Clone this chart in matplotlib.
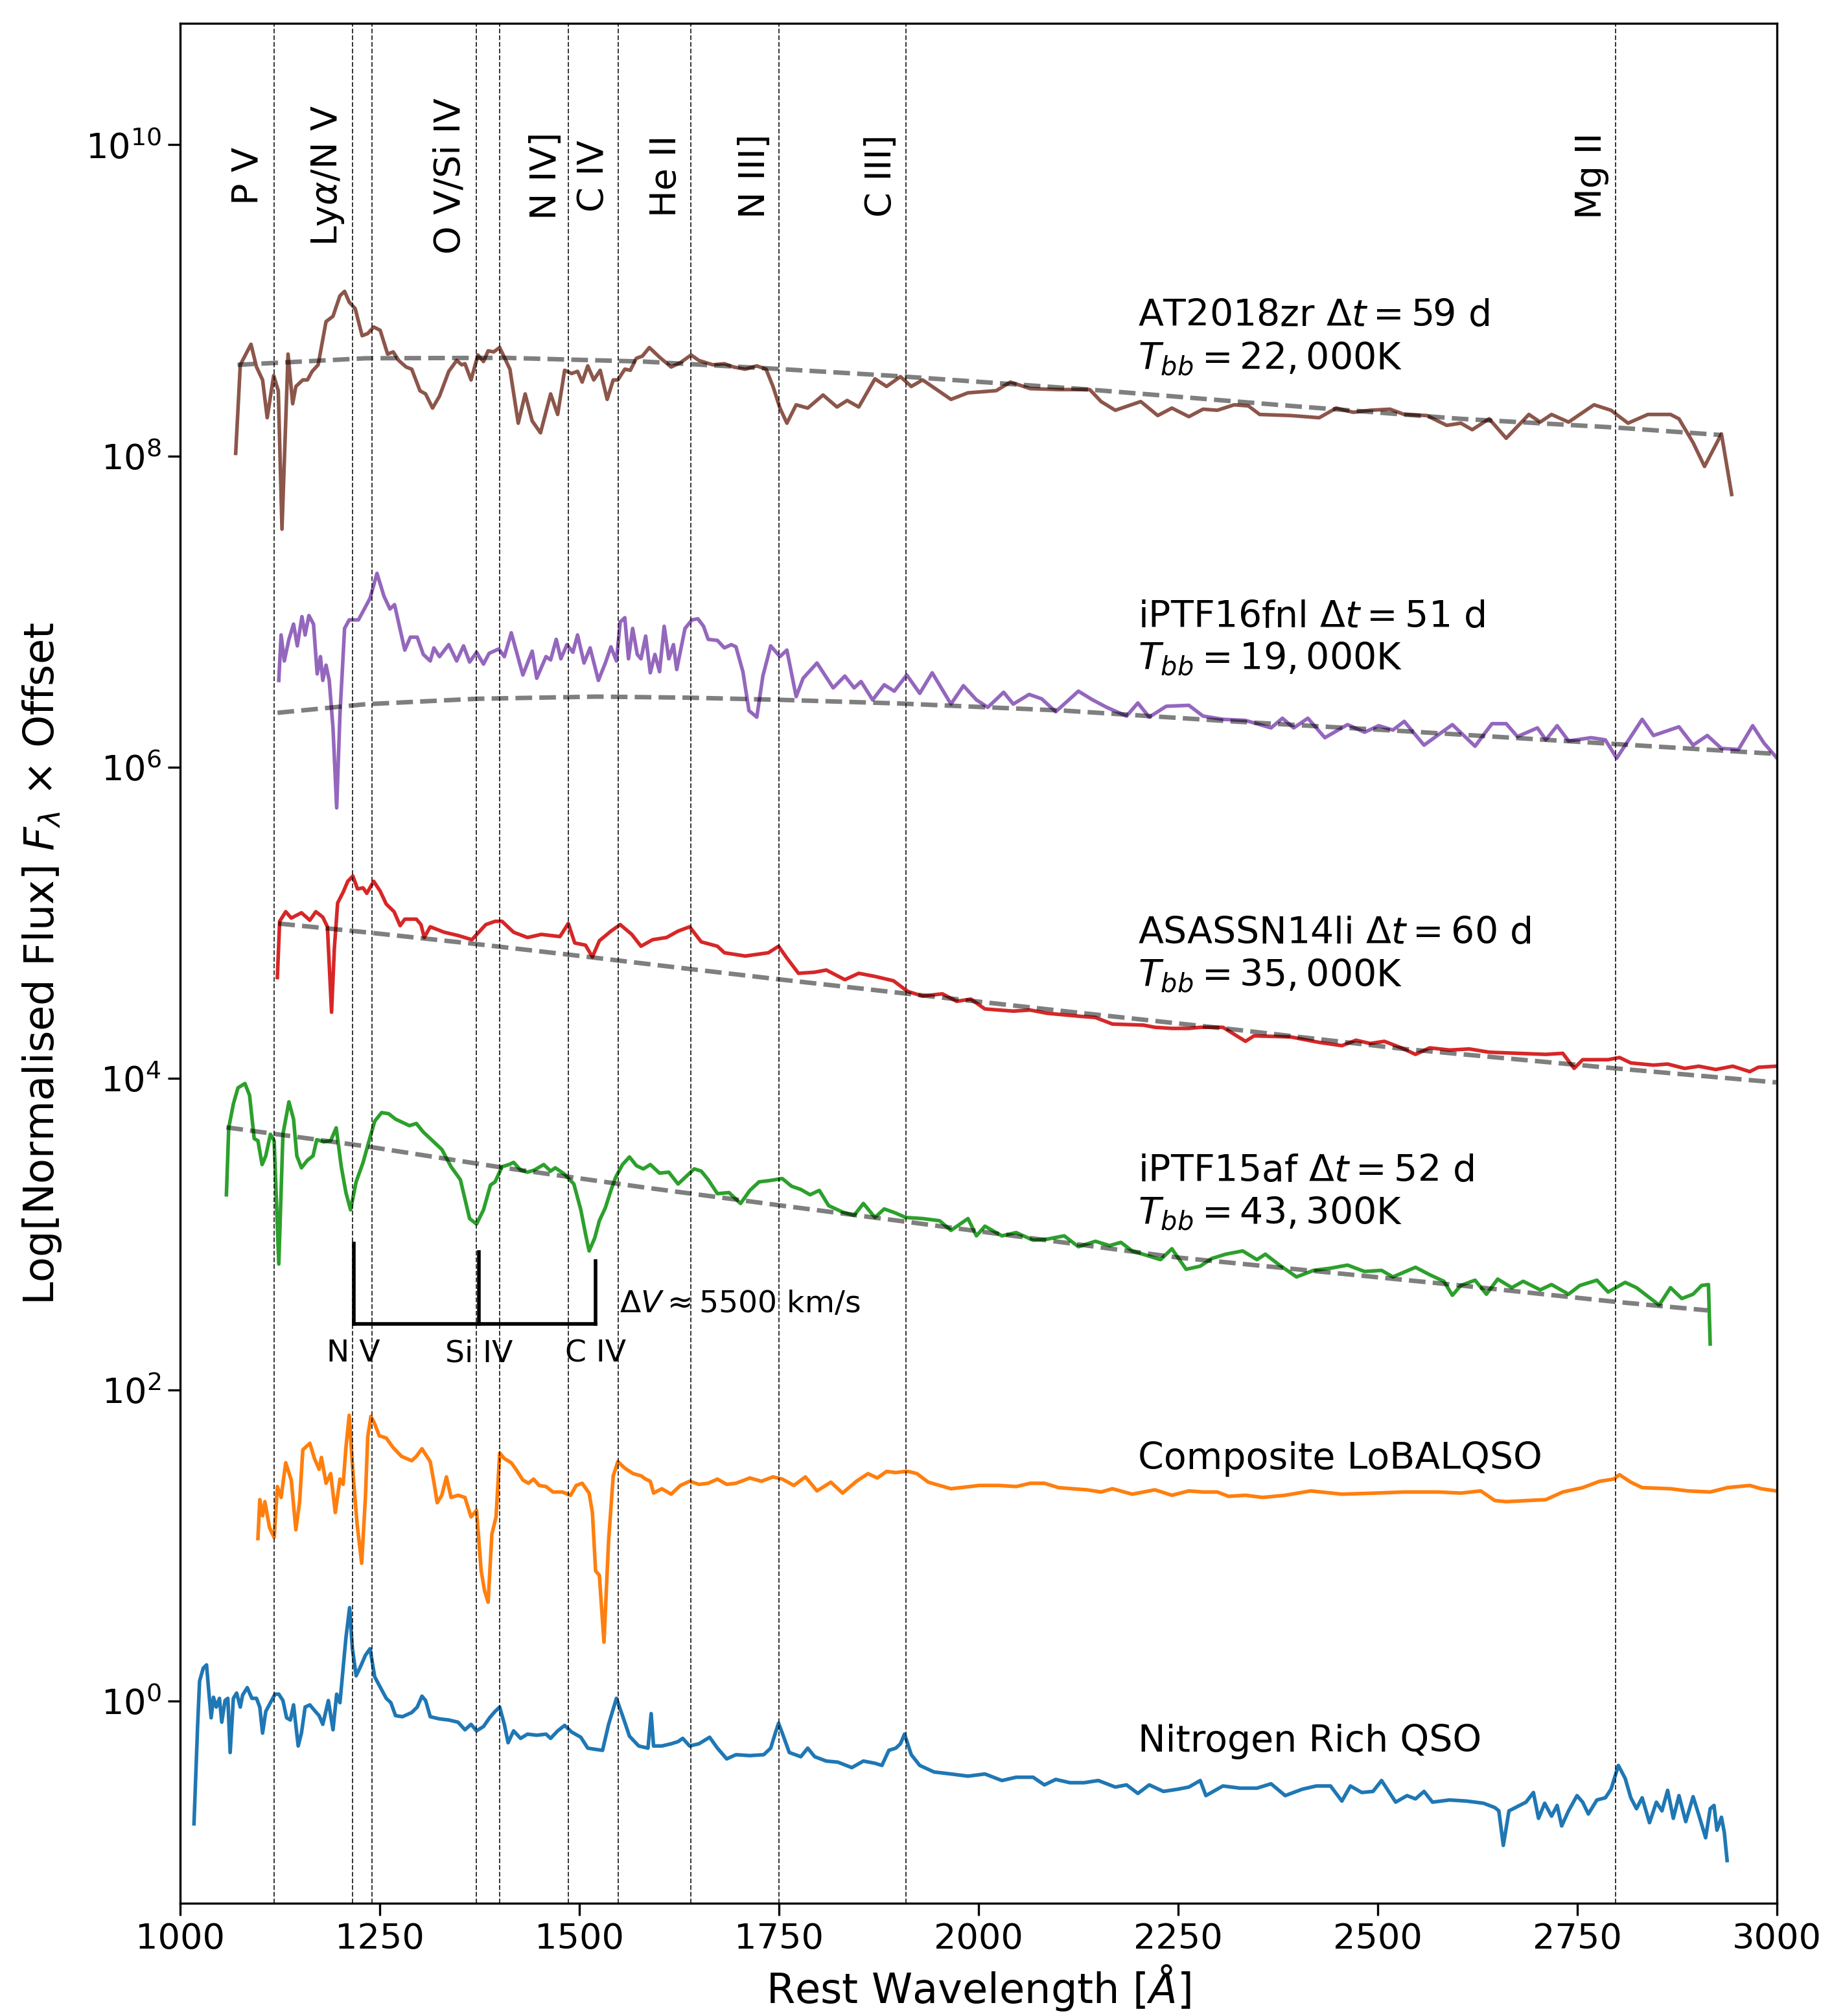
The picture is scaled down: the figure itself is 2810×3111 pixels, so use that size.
import numpy as np
import matplotlib
matplotlib.use('Agg')
import matplotlib.pyplot as plt
from matplotlib.ticker import FixedLocator, NullLocator

# ---------------- data (wavelength [A], log10 flux x offset) ----------------
AT2018ZR = [
(1069.6, 8.017), (1075.4, 8.586), (1088.8, 8.718), (1095.7, 8.572), (1103.3, 8.489), (1109.1, 8.246),
(1117.2, 8.517), (1123.0, 8.419), (1127.6, 7.53), (1135.2, 8.655), (1141.0, 8.336), (1145.0, 8.447),
(1153.7, 8.489), (1159.5, 8.489), (1165.4, 8.544), (1172.9, 8.586), (1182.8, 8.864), (1191.5, 8.898),
(1200.2, 9.03), (1206.0, 9.058), (1211.8, 8.989), (1219.3, 8.947), (1228.0, 8.773), (1235.0, 8.787),
(1242.5, 8.829), (1250.6, 8.808), (1259.9, 8.655), (1266.9, 8.669), (1273.8, 8.614), (1283.1, 8.572),
(1290.1, 8.558), (1300.5, 8.419), (1307.5, 8.399), (1316.2, 8.308), (1324.9, 8.385), (1336.5, 8.544),
(1346.4, 8.614), (1352.7, 8.586), (1356.8, 8.593), (1364.4, 8.489), (1373.0, 8.649), (1380.0, 8.607),
(1385.8, 8.676), (1392.8, 8.669), (1400.3, 8.697), (1413.1, 8.558), (1423.5, 8.211), (1432.2, 8.399),
(1441.0, 8.225), (1451.4, 8.149), (1464.1, 8.399), (1472.9, 8.267), (1481.6, 8.551), (1490.3, 8.530),
(1497.8, 8.544), (1503.6, 8.475), (1510.6, 8.579), (1518.1, 8.489), (1526.2, 8.551), (1534.9, 8.364),
(1542.5, 8.489), (1548.3, 8.489), (1557.0, 8.558), (1563.9, 8.551), (1571.5, 8.628), (1579.0, 8.642),
(1587.7, 8.697), (1600.5, 8.635), (1615.0, 8.572), (1626.6, 8.600), (1640.0, 8.649), (1649.8, 8.614),
(1658.5, 8.600), (1667.2, 8.586), (1681.7, 8.593), (1693.3, 8.572), (1707.8, 8.558), (1722.3, 8.579),
(1733.9, 8.558), (1742.6, 8.447), (1751.3, 8.308), (1760.0, 8.211), (1771.6, 8.329), (1786.1, 8.308),
(1805.3, 8.392), (1822.7, 8.315), (1835.5, 8.357), (1850.0, 8.315), (1870.3, 8.496), (1884.8, 8.447),
(1902.2, 8.510), (1915.8, 8.447), (1930.0, 8.489), (1965.5, 8.364), (1986.8, 8.406), (2022.2, 8.420),
(2040.0, 8.475), (2064.8, 8.433), (2100.3, 8.427), (2139.3, 8.427), (2153.5, 8.350), (2171.3, 8.294),
(2203.2, 8.350), (2224.5, 8.260), (2242.2, 8.308), (2263.5, 8.253), (2281.2, 8.301), (2299.0, 8.294),
(2320.3, 8.329), (2338.0, 8.322), (2352.2, 8.267), (2391.2, 8.260), (2426.7, 8.246), (2448.0, 8.308),
(2469.3, 8.281), (2490.6, 8.294), (2515.4, 8.301), (2533.2, 8.267), (2561.5, 8.260), (2586.4, 8.197),
(2604.1, 8.211), (2618.3, 8.169), (2639.6, 8.239), (2660.9, 8.114), (2689.3, 8.267), (2703.5, 8.218),
(2717.7, 8.267), (2739.0, 8.218), (2770.9, 8.329), (2792.2, 8.294), (2813.5, 8.211), (2838.3, 8.267),
(2866.7, 8.267), (2877.3, 8.239), (2895.0, 8.086), (2909.3, 7.933), (2930.5, 8.142), (2943.3, 7.753)]

IPTF16FNL = [
(1123.6, 6.558), (1126.5, 6.850), (1130.5, 6.683), (1136.3, 6.822), (1142.1, 6.920), (1146.8, 6.780),
(1152.6, 6.968), (1156.6, 6.850), (1161.3, 6.975), (1167.1, 6.920), (1171.7, 6.600), (1175.8, 6.711),
(1178.7, 6.558), (1182.8, 6.656), (1186.8, 6.558), (1191.5, 6.253), (1196.1, 5.739), (1200.2, 6.336),
(1206.0, 6.892), (1211.8, 6.947), (1223.4, 6.947), (1232.1, 7.030), (1237.9, 7.086), (1246.6, 7.246),
(1255.3, 7.100), (1262.8, 7.017), (1268.6, 7.045), (1281.4, 6.753), (1288.4, 6.836), (1297.0, 6.836),
(1304.6, 6.725), (1313.3, 6.683), (1317.9, 6.767), (1324.9, 6.711), (1336.5, 6.788), (1346.4, 6.683),
(1355.0, 6.780), (1362.6, 6.676), (1371.3, 6.739), (1380.0, 6.663), (1387.0, 6.732), (1399.2, 6.760),
(1406.1, 6.711), (1414.8, 6.864), (1429.3, 6.593), (1441.0, 6.746), (1446.7, 6.572), (1458.3, 6.711),
(1464.1, 6.690), (1471.1, 6.822), (1476.9, 6.697), (1484.5, 6.788), (1492.0, 6.739), (1497.8, 6.850),
(1505.9, 6.670), (1513.5, 6.767), (1523.9, 6.558), (1532.6, 6.670), (1539.6, 6.774), (1546.5, 6.683),
(1551.2, 6.933), (1557.0, 6.961), (1561.6, 6.697), (1566.8, 6.892), (1572.6, 6.725), (1577.3, 6.697),
(1583.1, 6.843), (1588.9, 6.607), (1594.7, 6.725), (1600.5, 6.614), (1606.3, 6.906), (1612.1, 6.697),
(1617.9, 6.788), (1622.0, 6.628), (1632.4, 6.892), (1641.1, 6.947), (1648.6, 6.954), (1655.6, 6.906),
(1661.4, 6.822), (1673.0, 6.815), (1681.7, 6.767), (1690.4, 6.788), (1696.2, 6.774), (1704.9, 6.614),
(1712.5, 6.364), (1722.3, 6.322), (1729.9, 6.586), (1739.7, 6.780), (1751.3, 6.711), (1760.0, 6.753),
(1771.6, 6.454), (1780.3, 6.572), (1797.7, 6.670), (1818.0, 6.510), (1832.6, 6.586), (1844.2, 6.510),
(1852.9, 6.551), (1867.4, 6.433), (1881.9, 6.530), (1894.5, 6.489), (1910.1, 6.593), (1926.4, 6.475),
(1942.0, 6.607), (1965.5, 6.406), (1981.1, 6.524), (1997.4, 6.433), (2011.6, 6.385), (2031.5, 6.482),
(2043.5, 6.406), (2063.4, 6.468), (2079.0, 6.440), (2096.7, 6.357), (2125.1, 6.489), (2142.9, 6.433),
(2160.6, 6.385), (2185.4, 6.329), (2199.6, 6.413), (2213.8, 6.322), (2235.1, 6.392), (2263.5, 6.398),
(2281.2, 6.329), (2306.1, 6.308), (2334.4, 6.301), (2366.4, 6.253), (2380.6, 6.315), (2394.8, 6.253),
(2412.5, 6.315), (2433.8, 6.190), (2462.2, 6.274), (2483.5, 6.225), (2501.2, 6.267), (2519.0, 6.239),
(2533.2, 6.295), (2558.0, 6.142), (2593.5, 6.274), (2621.9, 6.135), (2643.1, 6.280), (2660.9, 6.280),
(2675.0, 6.197), (2700.0, 6.253), (2710.6, 6.176), (2724.7, 6.267), (2739.0, 6.169), (2767.3, 6.190),
(2785.1, 6.176), (2799.3, 6.058), (2831.2, 6.308), (2845.4, 6.204), (2877.3, 6.260), (2895.0, 6.142),
(2912.8, 6.204), (2930.5, 6.121), (2951.8, 6.114), (2969.6, 6.267), (2983.8, 6.155), (2999.0, 6.065)]

ASASSN14LI = [
(1121.8, 4.649), (1124.7, 5.010), (1132.3, 5.072), (1139.2, 5.031), (1152.0, 5.065), (1162.5, 5.017),
(1170.0, 5.072), (1178.7, 5.037), (1184.5, 4.975), (1189.7, 4.426), (1193.2, 4.836), (1197.3, 5.128),
(1204.2, 5.197), (1210.0, 5.267), (1216.4, 5.301), (1222.2, 5.218), (1229.2, 5.225), (1233.8, 5.190),
(1242.5, 5.267), (1250.6, 5.204), (1258.2, 5.121), (1268.0, 5.072), (1275.6, 4.982), (1281.4, 5.024),
(1295.9, 5.024), (1301.7, 4.989), (1305.8, 4.906), (1313.3, 4.975), (1330.7, 4.940), (1348.1, 4.919),
(1365.5, 4.892), (1382.9, 4.989), (1394.5, 5.010), (1403.2, 5.010), (1417.7, 4.940), (1435.1, 4.906),
(1452.5, 4.926), (1475.7, 4.912), (1486.2, 4.996), (1494.3, 4.871), (1507.7, 4.857), (1516.4, 4.781),
(1525.1, 4.885), (1539.6, 4.947), (1551.2, 4.989), (1565.7, 4.926), (1577.3, 4.850), (1591.8, 4.892),
(1609.2, 4.906), (1623.7, 4.947), (1638.2, 4.975), (1652.7, 4.878), (1673.0, 4.850), (1681.7, 4.808),
(1707.8, 4.787), (1736.8, 4.808), (1749.6, 4.850), (1760.0, 4.774), (1774.5, 4.676), (1794.8, 4.683),
(1809.4, 4.697), (1832.6, 4.635), (1850.0, 4.676), (1870.3, 4.656), (1893.5, 4.628), (1908.0, 4.572),
(1912.2, 4.558), (1930.0, 4.530), (1954.8, 4.544), (1972.6, 4.496), (1990.3, 4.510), (2008.0, 4.447),
(2043.5, 4.433), (2064.8, 4.440), (2086.1, 4.419), (2128.7, 4.399), (2146.4, 4.392), (2167.7, 4.350),
(2206.7, 4.343), (2220.9, 4.329), (2242.2, 4.322), (2263.5, 4.322), (2277.7, 4.329), (2306.1, 4.329),
(2334.4, 4.239), (2345.1, 4.274), (2391.2, 4.267), (2426.7, 4.232), (2455.1, 4.211), (2472.8, 4.246),
(2490.6, 4.225), (2508.3, 4.239), (2529.6, 4.197), (2547.3, 4.155), (2565.1, 4.197), (2589.9, 4.183),
(2614.7, 4.190), (2639.6, 4.169), (2675.0, 4.162), (2710.6, 4.155), (2731.8, 4.162), (2746.0, 4.065),
(2756.7, 4.121), (2788.6, 4.121), (2802.8, 4.135), (2817.0, 4.100), (2845.4, 4.086), (2863.1, 4.093),
(2884.4, 4.065), (2902.2, 4.079), (2923.4, 4.058), (2944.7, 4.079), (2966.0, 4.044), (2976.6, 4.072),
(2999.0, 4.079)]

IPTF15AF = [
(1058.0, 3.253), (1060.9, 3.683), (1066.7, 3.836), (1072.5, 3.940), (1081.2, 3.968), (1087.0, 3.892),
(1092.8, 3.614), (1097.5, 3.600), (1102.7, 3.447), (1107.3, 3.503), (1113.1, 3.642), (1117.8, 3.600),
(1123.6, 2.808), (1128.8, 3.642), (1136.3, 3.850), (1142.1, 3.739), (1146.2, 3.503), (1152.0, 3.426),
(1159.5, 3.475), (1166.5, 3.503), (1171.2, 3.607), (1179.9, 3.593), (1188.6, 3.600), (1195.5, 3.683),
(1201.9, 3.433), (1207.7, 3.267), (1213.5, 3.156), (1220.5, 3.336), (1229.2, 3.461), (1236.7, 3.600),
(1243.7, 3.725), (1252.4, 3.781), (1261.1, 3.774), (1269.8, 3.739), (1278.5, 3.718), (1287.2, 3.697),
(1295.9, 3.711), (1304.6, 3.656), (1316.2, 3.600), (1327.8, 3.544), (1339.4, 3.433), (1351.0, 3.350),
(1356.8, 3.225), (1362.6, 3.100), (1371.3, 3.065), (1380.0, 3.156), (1388.7, 3.315), (1394.5, 3.336),
(1403.2, 3.433), (1411.9, 3.447), (1417.7, 3.461), (1426.4, 3.412), (1435.1, 3.398), (1443.8, 3.412),
(1455.4, 3.447), (1464.1, 3.405), (1469.9, 3.426), (1481.6, 3.385), (1493.2, 3.322), (1501.9, 3.156),
(1507.7, 3.003), (1512.3, 2.892), (1519.3, 2.975), (1525.1, 3.086), (1532.6, 3.169), (1539.6, 3.281),
(1545.4, 3.364), (1554.1, 3.447), (1562.8, 3.496), (1571.5, 3.440), (1580.2, 3.419), (1588.9, 3.447),
(1600.5, 3.392), (1612.1, 3.398), (1623.7, 3.322), (1632.4, 3.364), (1644.0, 3.419), (1652.7, 3.405),
(1661.4, 3.350), (1673.0, 3.260), (1687.5, 3.267), (1693.3, 3.239), (1702.0, 3.197), (1713.6, 3.281),
(1725.2, 3.336), (1736.8, 3.343), (1754.2, 3.357), (1765.8, 3.308), (1777.4, 3.287), (1789.0, 3.253),
(1800.6, 3.281), (1812.3, 3.183), (1829.7, 3.142), (1844.2, 3.121), (1855.8, 3.197), (1870.3, 3.107),
(1881.9, 3.162), (1896.4, 3.135), (1908.7, 3.107), (1930.0, 3.100), (1951.3, 3.086), (1965.5, 3.024),
(1986.8, 3.100), (1997.4, 2.989), (2008.0, 3.051), (2029.3, 2.989), (2047.1, 3.010), (2068.4, 2.961),
(2086.1, 2.968), (2107.4, 2.989), (2125.1, 2.919), (2146.4, 2.954), (2164.2, 2.926), (2178.3, 2.947),
(2192.5, 2.892), (2210.3, 2.864), (2228.0, 2.836), (2242.2, 2.906), (2260.0, 2.774), (2277.7, 2.794),
(2291.9, 2.843), (2309.6, 2.871), (2330.9, 2.892), (2348.7, 2.836), (2359.3, 2.871), (2377.0, 2.801),
(2398.3, 2.725), (2419.6, 2.767), (2440.9, 2.781), (2462.2, 2.801), (2483.5, 2.760), (2504.8, 2.767),
(2519.0, 2.725), (2547.3, 2.787), (2565.1, 2.739), (2582.8, 2.697), (2593.5, 2.607), (2604.1, 2.670),
(2621.9, 2.704), (2636.1, 2.614), (2650.3, 2.711), (2668.0, 2.656), (2682.2, 2.697), (2703.5, 2.642),
(2717.7, 2.676), (2739.0, 2.614), (2753.2, 2.670), (2774.5, 2.704), (2788.6, 2.628), (2809.9, 2.690),
(2824.1, 2.656), (2838.3, 2.600), (2852.5, 2.544), (2866.7, 2.656), (2880.9, 2.586), (2895.0, 2.614),
(2905.7, 2.670), (2914.2, 2.676), (2916.4, 2.294)]

COMPOSITE_LOBAL = [
(1097.5, 1.044), (1099.8, 1.294), (1103.3, 1.190), (1106.2, 1.281), (1112.0, 1.114), (1117.8, 1.051),
(1121.8, 1.378), (1126.5, 1.308), (1132.3, 1.531), (1139.2, 1.420), (1145.0, 1.100), (1149.7, 1.281),
(1153.7, 1.614), (1162.5, 1.656), (1168.3, 1.558), (1174.1, 1.489), (1177.0, 1.565), (1182.8, 1.399),
(1188.6, 1.461), (1194.4, 1.211), (1200.2, 1.426), (1204.2, 1.392), (1207.7, 1.628), (1211.8, 1.836),
(1216.4, 1.475), (1221.6, 1.142), (1227.4, 0.885), (1232.1, 1.308), (1235.0, 1.697), (1239.0, 1.829),
(1243.7, 1.781), (1249.5, 1.704), (1258.2, 1.690), (1266.9, 1.628), (1277.3, 1.572), (1290.1, 1.544),
(1295.9, 1.572), (1302.9, 1.621), (1313.3, 1.538), (1317.9, 1.406), (1322.0, 1.274), (1327.8, 1.322),
(1333.6, 1.440), (1339.4, 1.308), (1348.1, 1.322), (1356.8, 1.308), (1364.4, 1.183), (1371.3, 1.225),
(1377.1, 0.836), (1381.2, 0.711), (1385.8, 0.635), (1390.5, 1.072), (1395.7, 1.183), (1400.3, 1.593),
(1406.1, 1.558), (1414.8, 1.531), (1420.6, 1.489), (1429.3, 1.420), (1436.3, 1.399), (1442.7, 1.426),
(1449.6, 1.385), (1458.3, 1.378), (1467.0, 1.343), (1478.6, 1.343), (1489.1, 1.322), (1496.1, 1.385),
(1503.6, 1.399), (1512.3, 1.336), (1516.4, 1.211), (1520.4, 0.836), (1525.1, 0.808), (1530.9, 0.378),
(1536.7, 1.031), (1542.5, 1.447), (1548.3, 1.538), (1557.0, 1.496), (1567.4, 1.461), (1577.3, 1.447),
(1583.1, 1.426), (1588.9, 1.412), (1593.0, 1.336), (1603.4, 1.364), (1615.0, 1.329), (1626.6, 1.385),
(1638.2, 1.412), (1649.8, 1.392), (1661.4, 1.399), (1673.0, 1.426), (1684.6, 1.392), (1696.2, 1.399),
(1713.6, 1.433), (1728.1, 1.412), (1742.6, 1.440), (1754.2, 1.426), (1768.7, 1.385), (1783.2, 1.440),
(1797.7, 1.350), (1815.1, 1.406), (1829.7, 1.336), (1847.1, 1.412), (1861.6, 1.461), (1873.2, 1.433),
(1884.8, 1.475), (1896.4, 1.468), (1908.0, 1.475), (1912.2, 1.475), (1922.9, 1.461), (1937.1, 1.406),
(1965.5, 1.364), (2001.0, 1.385), (2025.8, 1.385), (2047.1, 1.378), (2064.8, 1.399), (2082.5, 1.399),
(2100.3, 1.371), (2135.8, 1.357), (2153.5, 1.343), (2167.7, 1.364), (2192.5, 1.329), (2220.9, 1.357),
(2242.2, 1.322), (2263.5, 1.350), (2281.2, 1.343), (2299.0, 1.343), (2313.2, 1.315), (2334.4, 1.322),
(2355.8, 1.308), (2384.1, 1.322), (2416.1, 1.350), (2455.1, 1.329), (2497.7, 1.336), (2533.2, 1.343),
(2575.7, 1.343), (2604.1, 1.336), (2629.0, 1.350), (2646.7, 1.288), (2660.9, 1.281), (2710.6, 1.294),
(2731.8, 1.343), (2756.7, 1.371), (2778.0, 1.412), (2795.7, 1.426), (2802.8, 1.454), (2817.0, 1.406),
(2831.2, 1.371), (2866.7, 1.364), (2888.0, 1.350), (2916.4, 1.343), (2938.0, 1.371), (2966.0, 1.385),
(2980.2, 1.364), (2999.0, 1.350)]

NITROGEN_QSO = [
(1017.4, -0.789), (1022.0, -0.150), (1024.4, 0.128), (1029.0, 0.211), (1033.1, 0.232), (1036.0, 0.058),
(1038.9, -0.108), (1041.8, 0.024), (1045.3, -0.039), (1049.3, 0.017), (1052.2, -0.136), (1056.3, 0.003),
(1059.8, 0.017), (1062.7, -0.331), (1066.7, 0.017), (1070.8, 0.051), (1075.4, -0.039), (1078.3, 0.038),
(1084.1, 0.086), (1089.9, 0.017), (1095.7, 0.017), (1099.8, -0.039), (1103.3, -0.206), (1107.3, -0.067),
(1113.1, -0.011), (1118.9, 0.044), (1123.6, 0.044), (1128.8, 0.003), (1133.4, -0.108), (1138.1, -0.122),
(1142.1, -0.025), (1147.9, -0.289), (1152.0, -0.206), (1156.6, -0.039), (1162.5, -0.025), (1169.4, -0.067),
(1174.1, -0.094), (1178.7, -0.150), (1185.7, 0.003), (1191.5, -0.185), (1196.1, 0.044), (1200.2, -0.011),
(1204.2, 0.211), (1207.7, 0.406), (1212.3, 0.600), (1215.8, 0.336), (1220.5, 0.162), (1226.3, 0.225),
(1232.1, 0.294), (1237.9, 0.336), (1243.7, 0.156), (1249.5, 0.100), (1258.2, 0.017), (1264.0, -0.011),
(1269.8, -0.094), (1278.5, -0.101), (1290.1, -0.074), (1297.0, -0.039), (1302.9, 0.031), (1307.5, 0.003),
(1313.3, -0.101), (1324.9, -0.115), (1336.5, -0.122), (1348.1, -0.136), (1356.8, -0.185), (1364.4, -0.150),
(1371.3, -0.192), (1380.0, -0.164), (1387.6, -0.108), (1394.5, -0.067), (1400.3, -0.039), (1406.1, -0.150),
(1410.8, -0.268), (1417.7, -0.192), (1426.4, -0.240), (1435.1, -0.213), (1446.7, -0.220), (1458.3, -0.213),
(1464.1, -0.240), (1472.9, -0.192), (1481.6, -0.157), (1490.3, -0.199), (1501.9, -0.233), (1510.6, -0.303),
(1519.3, -0.310), (1529.1, -0.317), (1536.7, -0.150), (1546.5, 0.017), (1554.1, -0.094), (1562.8, -0.226),
(1574.4, -0.289), (1586.0, -0.303), (1590.0, -0.081), (1593.0, -0.289), (1603.4, -0.289), (1615.0, -0.275),
(1623.7, -0.261), (1629.5, -0.240), (1638.2, -0.289), (1649.8, -0.275), (1663.2, -0.233), (1673.0, -0.303),
(1684.6, -0.372), (1696.2, -0.345), (1713.6, -0.351), (1731.0, -0.345), (1739.7, -0.303), (1745.5, -0.206),
(1749.6, -0.143), (1754.2, -0.206), (1763.0, -0.331), (1777.4, -0.358), (1786.1, -0.303), (1794.8, -0.358),
(1809.4, -0.386), (1823.9, -0.393), (1841.3, -0.428), (1855.8, -0.386), (1870.3, -0.400), (1879.0, -0.414),
(1887.7, -0.317), (1896.4, -0.303), (1902.2, -0.275), (1907.3, -0.213), (1915.8, -0.345), (1926.4, -0.414),
(1944.2, -0.456), (1965.5, -0.469), (1986.8, -0.483), (2008.0, -0.469), (2029.3, -0.511), (2047.1, -0.490),
(2068.4, -0.490), (2082.5, -0.539), (2096.7, -0.504), (2114.5, -0.525), (2132.2, -0.525), (2150.0, -0.511),
(2171.3, -0.553), (2185.4, -0.539), (2199.6, -0.594), (2213.8, -0.539), (2231.6, -0.581), (2249.3, -0.567),
(2263.5, -0.553), (2277.7, -0.511), (2284.8, -0.608), (2306.1, -0.546), (2327.4, -0.560), (2348.7, -0.560),
(2366.4, -0.532), (2384.1, -0.608), (2405.4, -0.567), (2423.2, -0.546), (2440.9, -0.546), (2455.1, -0.643),
(2465.8, -0.546), (2480.0, -0.588), (2494.1, -0.581), (2504.8, -0.511), (2522.5, -0.650), (2536.7, -0.608),
(2547.3, -0.629), (2558.0, -0.581), (2568.6, -0.650), (2589.9, -0.636), (2611.2, -0.643), (2632.5, -0.657),
(2646.7, -0.685), (2651.7, -0.706), (2657.3, -0.928), (2664.4, -0.706), (2675.0, -0.678), (2685.7, -0.650),
(2695.0, -0.588), (2701.4, -0.754), (2709.1, -0.657), (2717.7, -0.740), (2724.7, -0.671), (2730.4, -0.803),
(2739.0, -0.706), (2749.6, -0.608), (2756.7, -0.650), (2763.8, -0.726), (2774.5, -0.636), (2785.1, -0.622),
(2792.2, -0.567), (2801.4, -0.414), (2809.9, -0.497), (2817.0, -0.622), (2824.1, -0.692), (2831.2, -0.622),
(2840.4, -0.782), (2849.0, -0.650), (2856.0, -0.706), (2863.1, -0.574), (2870.2, -0.754), (2877.3, -0.608),
(2885.8, -0.775), (2895.0, -0.615), (2902.2, -0.733), (2910.7, -0.879), (2916.4, -0.692), (2921.2, -0.671),
(2924.9, -0.830), (2930.5, -0.747), (2934.1, -0.845), (2937.6, -1.025)]

# blackbody fits
BB_AT2018ZR = [(1072, 8.586), (1232, 8.628), (1406, 8.631), (1580, 8.607), (1754, 8.558), (1900, 8.513),
               (2139, 8.427), (2391, 8.322), (2604, 8.239), (2798, 8.183), (2930, 8.135)]
BB_IPTF16FNL = [(1122, 6.350), (1232, 6.405), (1371, 6.440), (1522, 6.454), (1638, 6.447), (1754, 6.433),
                (1900, 6.410), (2107, 6.364), (2320, 6.294), (2533, 6.232), (2798, 6.149), (2999, 6.086)]
BB_ASASSN14LI = [(1123, 4.996), (1232, 4.940), (1371, 4.864), (1490, 4.794), (1638, 4.704), (1754, 4.635),
                 (1900, 4.551), (2107, 4.433), (2320, 4.315), (2533, 4.190), (2798, 4.065), (2999, 3.975)]
BB_IPTF15AF = [(1058, 3.686), (1232, 3.565), (1406, 3.426), (1580, 3.301), (1754, 3.183), (1900, 3.086),
               (2249, 2.850), (2604, 2.670), (2798, 2.565), (2913, 2.510)]

# spectral line markers
LINE_WAVES = [1118, 1216, 1240, 1371, 1400, 1486, 1549, 1640, 1750, 1909, 2798]
LINE_LABELS = ['P V', r'Ly$\alpha$/N V', 'O V/Si IV', 'N IV]', 'C IV', 'He II', 'N III]', 'C III]', 'Mg II']
LINE_LABEL_X = [1085, 1185, 1338, 1459, 1518, 1609, 1720, 1878, 2768]

# labels of each spectrum: (name line, temperature line, log10 baseline of first line, of second line)
SPEC_LABELS = [
    (r'AT2018zr $\Delta t = 59$ d', r'$T_{bb} = 22,000$K', 8.836, 8.558),
    (r'iPTF16fnl $\Delta t = 51$ d', r'$T_{bb} = 19,000$K', 6.899, 6.628),
    (r'ASASSN14li $\Delta t = 60$ d', r'$T_{bb} = 35,000$K', 4.867, 4.593),
    (r'iPTF15af $\Delta t = 52$ d', r'$T_{bb} = 43,300$K', 3.339, 3.065),
    ('Composite LoBALQSO', None, 1.489, None),
    ('Nitrogen Rich QSO', None, -0.324, None),
]

# BAL velocity bracket
BAL_REST = [1240.0, 1400.0, 1549.0]
BAL_NAMES = ['N V', 'Si IV', 'C IV']
BAL_DV = 5500.0  # km/s
BAL_TOP_LOG = [2.9375, 2.885, 2.825]
BAL_BASE_LOG = 2.425

# ---------------- plotting ----------------
fig = plt.figure(figsize=(14.05, 15.555), dpi=200)
ax = fig.add_axes([0.0989, 0.0559, 0.8769, 0.9325])

spectra = [(AT2018ZR, 'tab:brown'), (IPTF16FNL, 'tab:purple'), (ASASSN14LI, 'tab:red'),
           (IPTF15AF, 'tab:green'), (COMPOSITE_LOBAL, 'tab:orange'), (NITROGEN_QSO, 'tab:blue')]
for data, col in spectra:
    lam = np.array([p[0] for p in data])
    lf = np.array([p[1] for p in data])
    ax.plot(lam, 10.0 ** lf, color=col, lw=2.0)

for bb in [BB_AT2018ZR, BB_IPTF16FNL, BB_ASASSN14LI, BB_IPTF15AF]:
    lam = np.array([p[0] for p in bb])
    lf = np.array([p[1] for p in bb])
    ax.plot(lam, 10.0 ** lf, ls='--', color='k', alpha=0.5, lw=2.5)

for w in LINE_WAVES:
    ax.axvline(w, color='k', ls='--', lw=0.7, alpha=0.8)

for x, lab in zip(LINE_LABEL_X, LINE_LABELS):
    ax.text(x, 10 ** 9.8, lab, rotation=90, ha='center', va='center', fontsize=20)

for name, temp, y1, y2 in SPEC_LABELS:
    ax.text(2200, 10 ** y1, name, fontsize=20.5, va='baseline', ha='left')
    if temp is not None:
        ax.text(2200, 10 ** y2, temp, fontsize=20.5, va='baseline', ha='left')

# bracket
c_kms = 299792.458
bal_pos = [w * (1 - BAL_DV / c_kms) for w in BAL_REST]
for xp, top in zip(bal_pos, BAL_TOP_LOG):
    ax.plot([xp, xp], [10 ** BAL_BASE_LOG, 10 ** top], color='k', lw=2)
ax.plot([bal_pos[0], bal_pos[-1]], [10 ** BAL_BASE_LOG, 10 ** BAL_BASE_LOG], color='k', lw=2)
for xp, nm in zip(bal_pos, BAL_NAMES):
    ax.text(xp, 10 ** 2.233, nm, ha='center', va='center', fontsize=17)
ax.text(bal_pos[-1] + 30, 10 ** 2.55, r'$\Delta V \approx 5500$ km/s', ha='left', va='center', fontsize=17)

ax.set_yscale('log')
ax.set_xlim(1000, 3000)
ax.set_ylim(10 ** -1.3, 10 ** 10.78)
ax.yaxis.set_major_locator(FixedLocator([1e0, 1e2, 1e4, 1e6, 1e8, 1e10]))
ax.yaxis.set_minor_locator(NullLocator())
ax.set_xticks([1000, 1250, 1500, 1750, 2000, 2250, 2500, 2750, 3000])
ax.tick_params(axis='both', labelsize=19.5, length=7, width=1.2)
ax.set_xlabel(r'Rest Wavelength [$\AA$]', fontsize=23)
ax.set_ylabel(r'Log[Normalised Flux] $F_\lambda$ $\times$ Offset', fontsize=23, labelpad=12)
for s in ax.spines.values():
    s.set_linewidth(1.2)

fig.savefig('out.png', dpi=200)
